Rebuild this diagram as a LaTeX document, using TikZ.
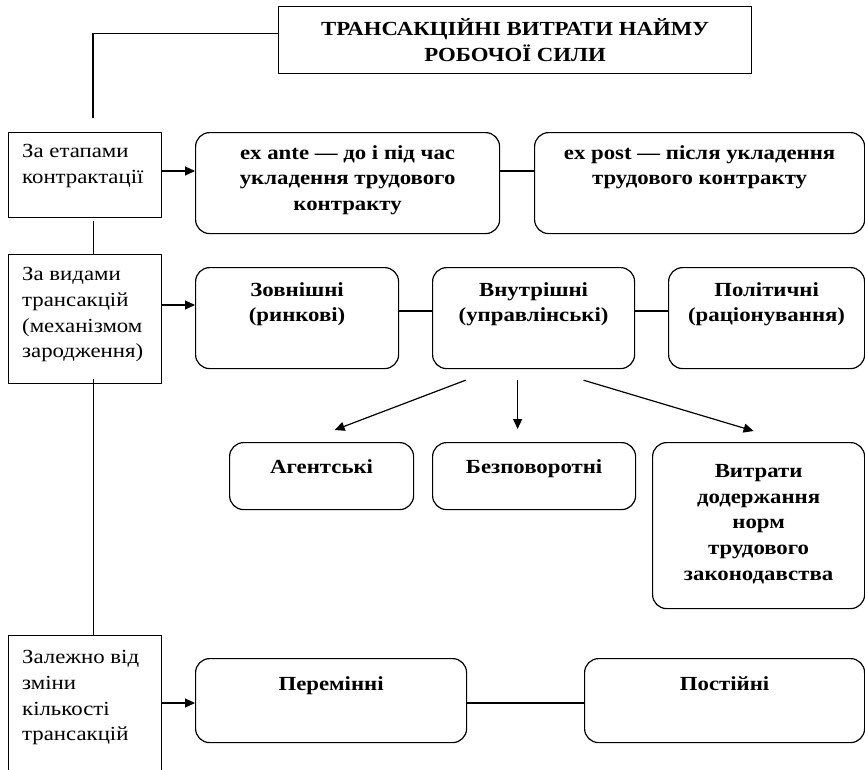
\documentclass[tikz,border=0pt]{standalone}
\usepackage{fontspec}
\setmainfont{Liberation Serif}[FakeStretch=1.14]
\usetikzlibrary{arrows.meta}
\begin{document}
\begin{tikzpicture}[x=1pt,y=-1pt,
  lw/.style={line width=1.2pt},
  sqbox/.style={draw, lw, rectangle, inner sep=0pt, anchor=north west},
  rbox/.style={draw, lw, rounded corners=14pt, inner sep=0pt, anchor=north west},
  ltxt/.style={inner sep=0pt, align=left, anchor=north west, font=\fontsize{20}{25.8}\selectfont, execute at begin node=\strut},
  btxt/.style={inner sep=0pt, align=center, anchor=north, font=\fontsize{20}{25.8}\selectfont\bfseries, execute at begin node=\strut},
  conn/.style={lw},
  arr/.style={lw, -{Triangle[length=10pt,width=9pt]}}
]
\useasboundingbox (0,0) rectangle (865,769);
\clip (0,0) rectangle (865,769);

% boxes
\node[sqbox, minimum width=473pt, minimum height=67pt] (title) at (278,6) {};
\node[sqbox, minimum width=153pt, minimum height=85pt] (L1) at (8,132) {};
\node[sqbox, minimum width=153pt, minimum height=129pt] (L2) at (8,254) {};
\node[sqbox, minimum width=153pt, minimum height=170pt] (L3) at (8,635) {};

\node[rbox, minimum width=304pt, minimum height=101pt] (exante) at (195,132) {};
\node[rbox, minimum width=330pt, minimum height=101pt] (expost) at (534,132) {};

\node[rbox, minimum width=203pt, minimum height=101pt] (zovn) at (195,267) {};
\node[rbox, minimum width=202pt, minimum height=101pt] (vnutr) at (432,267) {};
\node[rbox, minimum width=196pt, minimum height=101pt] (polit) at (668,267) {};

\node[rbox, minimum width=184pt, minimum height=67pt] (ag) at (229,442) {};
\node[rbox, minimum width=203pt, minimum height=67pt] (bezp) at (432,442) {};
\node[rbox, minimum width=212pt, minimum height=166pt] (vytr) at (652,442) {};

\node[rbox, minimum width=271pt, minimum height=84pt] (per) at (195,658) {};
\node[rbox, minimum width=280pt, minimum height=84pt] (post) at (584,658) {};

% texts
\node[btxt, font=\fontsize{20}{26.5}\selectfont\bfseries] (titleT) at ([yshift=-12pt]title.north) {ТРАНСАКЦІЙНІ ВИТРАТИ НАЙМУ\\РОБОЧОЇ СИЛИ};
\node[ltxt] (L1T) at ([xshift=14pt,yshift=-12pt]L1.north west) {За етапами\\контрактації};
\node[ltxt] (L2T) at ([xshift=14pt,yshift=-13pt]L2.north west) {За видами\\трансакцій\\(механізмом\\зародження)};
\node[ltxt] (L3T) at ([xshift=14pt,yshift=-15pt]L3.north west) {Залежно від\\зміни\\кількості\\трансакцій};

\node[btxt] (exanteT) at ([yshift=-13pt]exante.north) {ex ante — до і під час\\укладення трудового\\контракту};
\node[btxt] (expostT) at ([yshift=-13pt]expost.north) {ex post — після укладення\\трудового контракту};

\node[btxt] (zovnT) at ([yshift=-15pt]zovn.north) {Зовнішні\\(ринкові)};
\node[btxt] (vnutrT) at ([yshift=-15pt]vnutr.north) {Внутрішні\\(управлінські)};
\node[btxt] (politT) at ([yshift=-15pt]polit.north) {Політичні\\(раціонування)};

\node[btxt] (agT) at ([yshift=-13pt]ag.north) {Агентські};
\node[btxt] (bezpT) at ([yshift=-13pt]bezp.north) {Безповоротні};
\node[btxt] (vytrT) at ([yshift=-22pt]vytr.north) {Витрати\\додержання\\норм\\трудового\\законодавства};

\node[btxt] (perT) at ([yshift=-14pt]per.north) {Перемінні};
\node[btxt] (postT) at ([yshift=-14pt]post.north) {Постійні};

% connectors
\coordinate (topEnd) at (93,118);
\draw[conn] ([yshift=6.5pt]title.west) -| (topEnd);
\draw[conn] ([xshift=8.5pt,yshift=-3pt]L1.south) -- ([xshift=8.5pt]L2.north);
\draw[conn] ([xshift=8.5pt,yshift=5pt]L2.south) -- ([xshift=8.5pt]L3.north);

\coordinate (r1) at (0,171);
\coordinate (r2) at (0,305);
\coordinate (r2b) at (0,311);
\coordinate (r4) at (0,703);
\draw[arr] (L1.east |- r1) -- (exante.west |- r1);
\draw[conn] (exante.east |- r1) -- (expost.west |- r1);
\draw[arr] (L2.east |- r2) -- (zovn.west |- r2);
\draw[conn] (zovn.east |- r2b) -- (vnutr.west |- r2b);
\draw[conn] (vnutr.east |- r2b) -- (polit.west |- r2b);
\draw[arr] (L3.east |- r4) -- (per.west |- r4);
\draw[conn] (per.east |- r4) -- (post.west |- r4);

\draw[arr] ([xshift=-68pt,yshift=-11pt]vnutr.south) -- ([xshift=13pt,yshift=12pt]ag.north);
\draw[arr] ([xshift=-16pt,yshift=-11pt]vnutr.south) -- ([xshift=-16.5pt,yshift=13pt]bezp.north);
\draw[arr] ([xshift=50pt,yshift=-11pt]vnutr.south) -- ([xshift=-5pt,yshift=11pt]vytr.north);
\end{tikzpicture}
\end{document}
